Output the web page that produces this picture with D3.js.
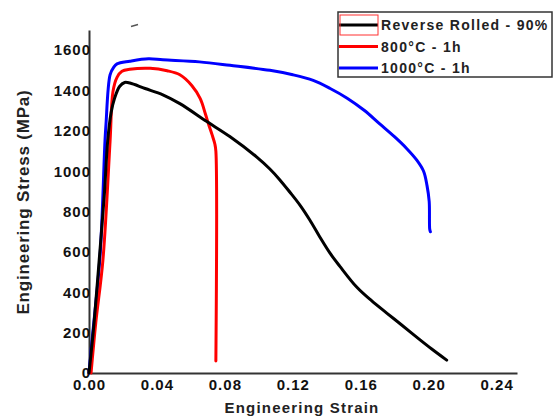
<!DOCTYPE html>
<html>
<head>
<meta charset="utf-8">
<script src="https://cdn.jsdelivr.net/npm/d3@7"></script>
<style>
  body { margin: 0; background: #fff; }
  svg { display: block; font-family: Arial, "Liberation Sans", sans-serif; }
  .tick text { font-weight: bold; font-size: 15px; letter-spacing: 1px; fill: #111; }
</style>
</head>
<body>
<div id="chart"></div>
<script>
// strain / stress pairs
const reverseRolled = [
  [0, 0], [0.003, 250], [0.006, 560], [0.009, 880], [0.011, 1150], [0.013, 1290],
  [0.015, 1360], [0.018, 1420], [0.021, 1440], [0.0241, 1437], [0.033, 1410],
  [0.0435, 1379], [0.0535, 1335], [0.0694, 1246], [0.0829, 1172], [0.0988, 1070],
  [0.1065, 1011], [0.1124, 957], [0.1182, 897], [0.1241, 833], [0.130, 758],
  [0.1359, 674], [0.1418, 595], [0.1476, 530], [0.1576, 426], [0.1665, 357],
  [0.1753, 297], [0.1841, 238], [0.1929, 178], [0.2018, 119], [0.2106, 64]
];
const annealed800 = [
  [0.0012, 0], [0.004, 250], [0.0082, 560], [0.0124, 1148], [0.0141, 1394],
  [0.0165, 1465], [0.0194, 1495], [0.024, 1505], [0.036, 1510], [0.046, 1498],
  [0.0535, 1478], [0.0605, 1425], [0.0655, 1360], [0.0685, 1285], [0.0705, 1230],
  [0.0725, 1180], [0.0741, 1135], [0.0747, 1100], [0.0747, 60]
];
const annealed1000 = [
  [0, 0], [0.0018, 163], [0.0065, 580], [0.0094, 1148], [0.010, 1232],
  [0.0124, 1478], [0.0145, 1515], [0.0165, 1532], [0.024, 1545], [0.035, 1557],
  [0.0435, 1552], [0.065, 1542], [0.083, 1525], [0.1065, 1500], [0.120, 1478],
  [0.132, 1450], [0.142, 1410], [0.152, 1362], [0.162, 1302], [0.171, 1236],
  [0.180, 1170], [0.187, 1113], [0.193, 1055], [0.197, 1000], [0.199, 930],
  [0.2003, 850], [0.2006, 714], [0.201, 700]
];

const xTicks = [0, 0.04, 0.08, 0.12, 0.16, 0.20, 0.24];
const yTicks = [0, 200, 400, 600, 800, 1000, 1200, 1400, 1600];

const series = [
  { name: '1000\u00b0C - 1h', color: '#0000ff', data: annealed1000 },
  { name: '800\u00b0C - 1h', color: '#ff0000', data: annealed800 },
  { name: 'Reverse Rolled - 90%', color: '#000000', data: reverseRolled }
];
const legendOrder = [series[2], series[1], series[0]];

const width = 555, height = 418;
const svg = d3.select('#chart').append('svg')
  .attr('width', width)
  .attr('height', height);

const x = d3.scaleLinear().domain([0, 0.252]).range([89, 517]);
const y = d3.scaleLinear().domain([0, 1700]).range([373, 30]);

// axes
const xAxis = svg.append('g')
  .attr('transform', `translate(0,${y(0)})`)
  .call(d3.axisBottom(x).tickValues(xTicks).tickFormat(d3.format('.2f'))
    .tickSize(0).tickPadding(6));
const yAxis = svg.append('g')
  .attr('transform', `translate(${x(0)},0)`)
  .call(d3.axisLeft(y).tickValues(yTicks).tickFormat(d3.format('d'))
    .tickSize(0).tickPadding(-2));

[xAxis, yAxis].forEach(a => {
  a.select('.domain').attr('stroke', '#333').attr('stroke-width', 2);
});

// curves
const line = d3.line()
  .x(d => x(d[0]))
  .y(d => y(d[1]))
  .curve(d3.curveCatmullRom.alpha(0.5));

svg.selectAll('.curve')
  .data(series)
  .enter()
  .append('path')
  .attr('class', 'curve')
  .attr('d', d => line(d.data))
  .attr('fill', 'none')
  .attr('stroke', d => d.color)
  .attr('stroke-width', 3)
  .attr('stroke-linejoin', 'round')
  .attr('stroke-linecap', 'round');

// axis titles
svg.append('text')
  .attr('transform', 'translate(29,202) rotate(-90)')
  .attr('text-anchor', 'middle')
  .attr('font-size', 17)
  .attr('font-weight', 'bold')
  .attr('letter-spacing', 0.8)
  .attr('fill', '#222')
  .text('Engineering Stress (MPa)');

svg.append('text')
  .attr('x', 302)
  .attr('y', 413)
  .attr('text-anchor', 'middle')
  .attr('font-size', 15)
  .attr('font-weight', 'bold')
  .attr('letter-spacing', 1.2)
  .attr('fill', '#222')
  .text('Engineering Strain');

// stray mark near the top
svg.append('line')
  .attr('x1', 131).attr('y1', 26.5)
  .attr('x2', 138).attr('y2', 24.5)
  .attr('stroke', '#555')
  .attr('stroke-width', 1.5);

// legend
const legend = svg.append('g');
legend.append('rect')
  .attr('x', 338).attr('y', 12)
  .attr('width', 214).attr('height', 65)
  .attr('fill', '#fff')
  .attr('stroke', '#333')
  .attr('stroke-width', 1.5);

const rows = legend.selectAll('.row')
  .data(legendOrder)
  .enter()
  .append('g')
  .attr('class', 'row')
  .attr('transform', (d, i) => `translate(0,${25 + i * 21.5})`);

rows.append('line')
  .attr('x1', 339).attr('x2', 378)
  .attr('stroke', d => d.color)
  .attr('stroke-width', 3);

rows.append('text')
  .attr('x', 381)
  .attr('y', 5)
  .attr('font-size', 14)
  .attr('font-weight', 'bold')
  .attr('letter-spacing', 1.3)
  .attr('fill', '#222')
  .text(d => d.name);

// thin red outline around the first legend sample
legend.append('rect')
  .attr('x', 340).attr('y', 15)
  .attr('width', 38).attr('height', 20)
  .attr('fill', 'none')
  .attr('stroke', '#ff3030')
  .attr('stroke-width', 1);
</script>
</body>
</html>
